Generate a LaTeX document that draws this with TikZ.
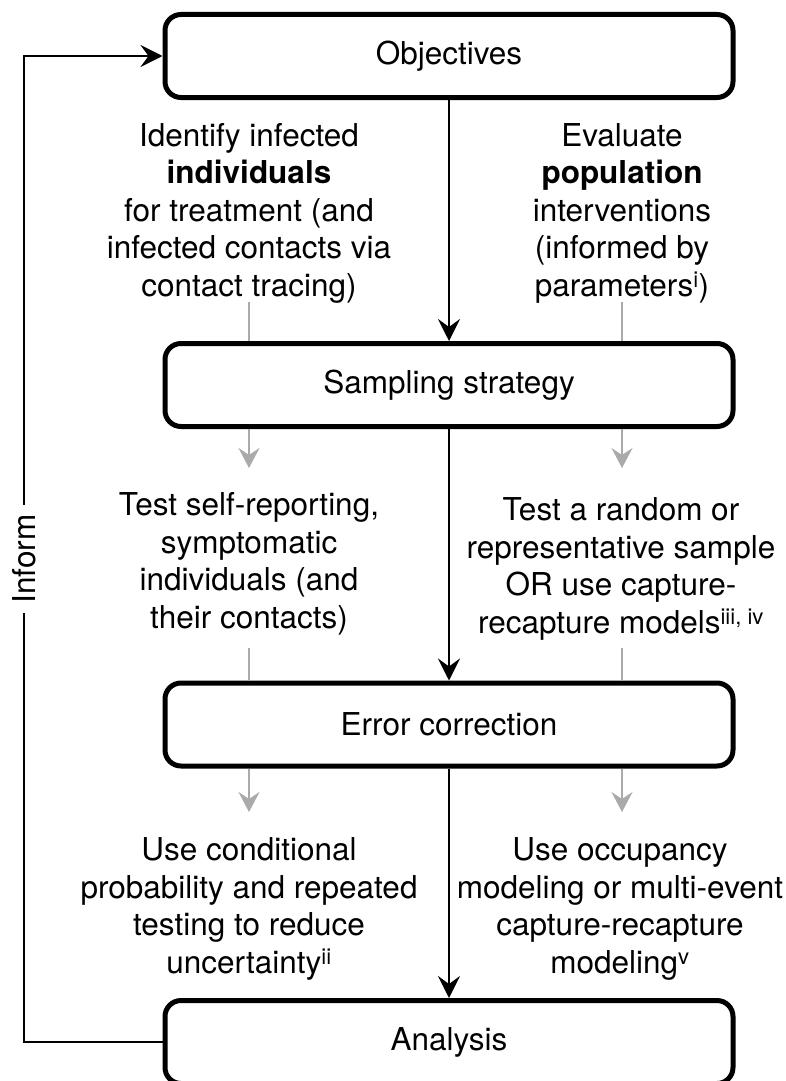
\documentclass[tikz,border=0pt]{standalone}
\usepackage{fontspec}
\setmainfont{TeX Gyre Heros}
\usetikzlibrary{arrows.meta}
\definecolor{lgrey}{RGB}{170,170,170}
\begin{document}
\begin{tikzpicture}[x=1pt,y=-1pt,
  box/.style={draw, line width=5pt, rounded corners=16pt, minimum width=568pt,
    minimum height=83pt, inner sep=0pt, font=\fontsize{31.5}{37.5}\selectfont},
  txt/.style={align=center, inner sep=0pt, font=\fontsize{31.5}{37.5}\selectfont},
  blk/.style={line width=2.4pt, -{Stealth[length=22pt,width=22pt,inset=8pt]}},
  gline/.style={draw=lgrey, line width=2pt},
  garrow/.style={draw=lgrey, line width=2pt, -{Stealth[length=20pt,width=21pt,inset=7pt]}},
]
\useasboundingbox (0,0) rectangle (785,1081);

% boxes
\node[box] (obj)  at (449,56)   {Objectives};
\node[box] (samp) at (449,385)  {Sampling strategy};
\node[box] (err)  at (449,724.5) {Error correction};
\node[box] (ana)  at (449,1042) {Analysis};

% texts
\node[txt] (t1) at (249,213) {Identify infected\\\textbf{individuals}\\for treatment (and\\infected contacts via\\contact tracing)};
\node[txt] (t2) at (622,213) {Evaluate\\\textbf{population}\\interventions\\(informed by\\parameters\textsuperscript{i})};
\node[txt] (t3) at (249,564) {Test self-reporting,\\symptomatic\\individuals (and\\their contacts)};
\node[txt] (t4) at (621,569) {Test a random or\\representative sample\\OR use capture-\\recapture models\textsuperscript{iii, iv}};
\node[txt] (t5) at (249,909) {Use conditional\\probability and repeated\\testing to reduce\\uncertainty\textsuperscript{ii}};
\node[txt] (t6) at (620,909) {Use occupancy\\modeling or multi-event\\capture-recapture\\modeling\textsuperscript{v}};

% main arrows
\draw[blk] (obj.south) -- (samp.north);
\draw[blk] (samp.south) -- (err.north);
\draw[blk] (err.south) -- (ana.north);

% grey guide lines
\coordinate (gl1) at (249,302);
\coordinate (gr1) at (622,302);
\coordinate (gl2) at (249,648);
\coordinate (gr2) at (622,648);
\coordinate (al1) at (249,468);
\coordinate (ar1) at (622,468);
\coordinate (al2) at (249,812);
\coordinate (ar2) at (622,812);
\draw[gline] (gl1) -- (gl1 |- samp.north);
\draw[gline] (gr1) -- (gr1 |- samp.north);
\draw[gline] (gl2) -- (gl2 |- err.north);
\draw[gline] (gr2) -- (gr2 |- err.north);
\draw[garrow] (al1 |- samp.south) -- (al1);
\draw[garrow] (ar1 |- samp.south) -- (ar1);
\draw[garrow] (al2 |- err.south) -- (al2);
\draw[garrow] (ar2 |- err.south) -- (ar2);

% inform loop
\coordinate (lp) at (24,0);
\draw[blk] (ana.west) -- (ana.west -| lp) -- (obj.west -| lp) -- (obj.west);
\node[txt, rotate=90, fill=white, inner xsep=10pt, inner ysep=2pt] (inf) at (24,559) {Inform};
\end{tikzpicture}
\end{document}
